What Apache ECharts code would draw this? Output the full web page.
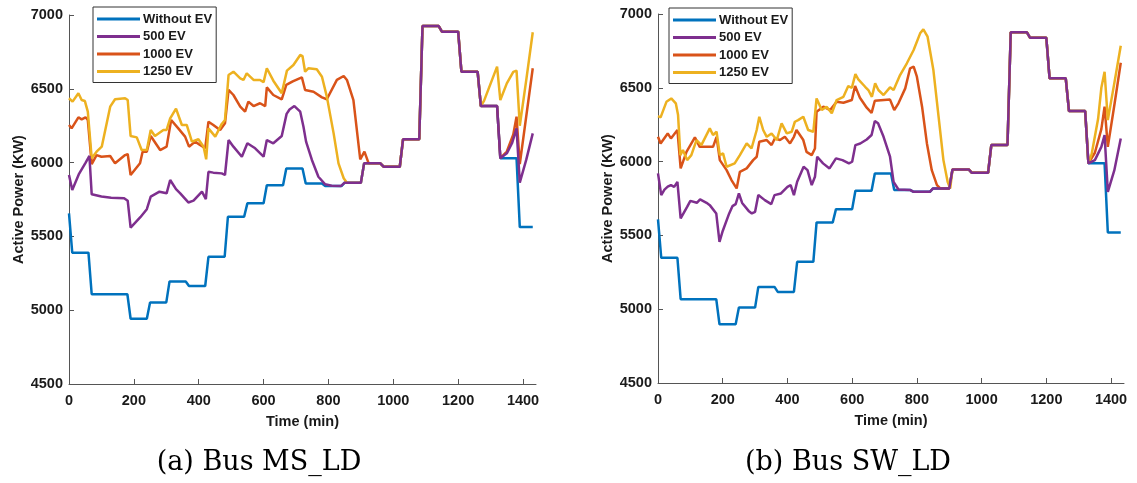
<!DOCTYPE html>
<html>
<head>
<meta charset="utf-8">
<script src="https://cdn.jsdelivr.net/npm/echarts@6/dist/echarts.min.js"></script>
<style>
  html, body { margin: 0; padding: 0; background: #fff; }
  #chart { width: 1137px; height: 483px; }
</style>
</head>
<body>
<div id="chart"></div>
<script>
// legend names and captions
const names = ['Without EV', '500 EV', '1000 EV', '1250 EV'];
const captions = ['(a) Bus MS_LD', '(b) Bus SW_LD'];
const colors = ['#0072BD', '#7E2F8E', '#D95319', '#EDB120'];

// ---- Bus MS_LD : [time (min), power (KW)] ----
// stretch where all four curves sit on top of each other
const commonL = [[960,5995],[970,5972],[1020,5972],[1030,6158],[1080,6158],[1090,6925],[1140,6925],[1150,6887],
  [1200,6887],[1210,6616],[1260,6616],[1270,6383]];

const baseL = [[0,5656],[10,5390],[60,5390],[70,5108],[180,5108],[190,4942],[240,4942],[250,5053],[300,5053],
  [310,5195],[360,5195],[370,5164],[420,5164],[430,5362],[480,5362],[490,5633],[540,5633],[550,5724],[600,5724],
  [610,5847],[660,5847],[670,5960],[720,5960],[730,5858],[780,5858],[790,5841],[840,5841],[850,5864],[900,5864],[910,5995]];
const baseTailL = [[1320,6383],[1330,6030],[1380,6030],[1390,5563],[1430,5563]];

const ev500L = [[0,5916],[10,5814],[30,5920],[50,5995],[63,6045],[70,5785],[100,5770],[130,5762],[170,5758],[181,5742],
  [190,5559],[220,5630],[240,5684],[252,5769],[279,5803],[301,5792],[312,5882],[330,5820],[343,5792],[368,5730],
  [384,5742],[410,5803],[422,5753],[430,5938],[445,5932],[471,5927],[481,5916],[492,6153],[507,6108],[533,6040],
  [550,6131],[574,6097],[600,6040],[610,6153],[630,6131],[656,6180],[671,6330],[680,6360],[695,6383],[713,6345],
  [723,6243],[731,6142],[749,6018],[769,5904],[790,5853],[810,5843],[838,5841],[850,5864],[900,5864],[910,5995]];
const ev500TailL = [[1320,6383],[1330,6030],[1350,6063],[1366,6131],[1380,6232],[1390,5864],[1410,6020],[1430,6198]];

const ev1000L = [[0,6255],[8,6232],[29,6307],[39,6293],[51,6307],[58,6289],[70,5990],[85,6051],[100,6040],[127,6045],
  [142,5995],[173,6051],[181,6058],[190,5916],[219,5995],[227,6074],[240,6074],[252,6180],[281,6085],[301,6108],
  [315,6289],[337,6232],[358,6176],[370,6108],[389,6142],[404,6119],[420,6097],[430,6277],[445,6255],[466,6221],
  [481,6266],[492,6492],[507,6458],[528,6379],[543,6345],[553,6413],[569,6383],[589,6402],[605,6383],[610,6510],
  [630,6458],[656,6429],[670,6526],[690,6550],[718,6578],[728,6492],[754,6480],[780,6442],[795,6429],[826,6560],
  [847,6587],[857,6560],[877,6424],[898,6022],[911,6074],[924,5995]];
const ev1000TailL = [[1320,6383],[1330,6030],[1350,6075],[1370,6190],[1380,6311],[1390,5990],[1430,6639]];

const ev1250L = [[0,6436],[11,6413],[29,6470],[39,6424],[49,6417],[58,6345],[70,6029],[85,6074],[101,6108],[127,6379],
  [142,6429],[173,6436],[181,6424],[190,6180],[209,6171],[224,6085],[240,6085],[252,6221],[265,6180],[291,6221],
  [301,6221],[312,6300],[330,6366],[348,6255],[363,6255],[379,6142],[399,6158],[415,6108],[423,6022],[430,6232],
  [451,6176],[471,6262],[481,6289],[492,6593],[507,6616],[528,6571],[538,6560],[548,6605],[569,6560],[589,6560],
  [600,6545],[610,6639],[630,6555],[656,6470],[672,6623],[692,6661],[713,6729],[720,6722],[728,6616],[738,6639],
  [764,6632],[780,6582],[795,6447],[816,6198],[831,5995],[847,5894],[857,5864],[900,5864],[910,5995]];
const ev1250TailL = [[1280,6420],[1320,6650],[1330,6424],[1350,6537],[1370,6615],[1380,6623],[1390,6250],[1410,6560],[1430,6883]];

// ---- Bus SW_LD ----
const commonR = [[960,5947],[970,5924],[1020,5924],[1030,6112],[1080,6112],[1090,6876],[1140,6876],[1150,6839],
  [1200,6839],[1210,6564],[1260,6564],[1270,6342],[1320,6342],[1330,5988]];

const baseR = [[0,5608],[10,5348],[60,5348],[70,5068],[180,5068],[190,4898],[240,4898],[250,5011],[300,5011],
  [310,5151],[360,5151],[370,5117],[420,5117],[430,5321],[480,5321],[490,5588],[540,5588],[550,5678],[600,5678],
  [610,5802],[660,5802],[670,5920],[720,5920],[730,5807],[780,5807],[790,5795],[840,5795],[850,5818],[900,5818],[910,5947]];
const baseTailR = [[1380,5988],[1390,5520],[1430,5520]];

const ev500R = [[0,5920],[10,5773],[20,5810],[30,5830],[40,5841],[50,5829],[60,5863],[70,5615],[90,5693],[100,5734],
  [120,5721],[130,5744],[150,5721],[160,5705],[180,5649],[190,5456],[200,5530],[220,5649],[230,5698],[240,5712],
  [250,5784],[260,5720],[280,5666],[290,5649],[300,5660],[310,5773],[330,5739],[350,5712],[360,5773],[380,5784],
  [400,5829],[410,5841],[420,5773],[430,5863],[450,5965],[462,5942],[475,5841],[485,5897],[492,6033],[510,5988],
  [530,5954],[550,6022],[570,6010],[590,5988],[600,5999],[610,6112],[625,6123],[645,6150],[660,6180],[670,6275],
  [680,6260],[697,6168],[717,6033],[728,5863],[743,5811],[780,5807],[790,5795],[840,5795],[850,5818],[900,5818],[910,5947]];
const ev500TailR = [[1350,6010],[1370,6100],[1380,6180],[1390,5795],[1410,5940],[1430,6157]];

const ev1000R = [[0,6168],[8,6123],[30,6191],[40,6157],[60,6214],[70,5954],[88,6066],[114,6164],[129,6100],[170,6100],
  [181,6168],[191,6010],[212,5942],[227,5875],[243,5818],[253,5931],[274,5954],[294,6010],[305,6033],[313,6134],
  [336,6146],[351,6112],[361,6157],[377,6146],[392,6168],[408,6123],[420,6168],[428,6214],[449,6146],[459,6066],
  [475,6044],[485,6089],[490,6338],[511,6372],[532,6349],[552,6405],[573,6399],[599,6417],[609,6512],[624,6433],
  [645,6365],[660,6330],[670,6412],[717,6420],[730,6349],[743,6395],[764,6496],[779,6632],[790,6643],[800,6575],
  [816,6372],[831,6123],[846,5942],[862,5841],[872,5818],[900,5818],[910,5947]];
const ev1000TailR = [[1350,6060],[1370,6220],[1380,6372],[1390,6100],[1410,6380],[1430,6670]];

const ev1250R = [[0,6308],[8,6300],[26,6405],[41,6428],[55,6395],[62,6315],[69,6044],[77,6078],[90,6010],[103,6044],
  [119,6146],[134,6112],[160,6225],[170,6180],[181,6202],[191,6044],[201,6056],[212,5965],[237,5988],[253,6044],
  [274,6123],[289,6089],[305,6214],[313,6304],[325,6214],[336,6168],[351,6191],[367,6146],[382,6259],[398,6191],
  [413,6202],[423,6270],[433,6281],[449,6304],[464,6214],[480,6202],[490,6428],[506,6349],[521,6372],[537,6327],
  [552,6417],[573,6439],[588,6512],[599,6500],[610,6593],[619,6557],[640,6507],[650,6485],[661,6439],[671,6530],
  [681,6485],[697,6451],[717,6503],[728,6485],[748,6586],[769,6666],[790,6756],[810,6869],[820,6896],[833,6846],
  [851,6620],[867,6304],[882,6010],[895,5863],[903,5818],[910,5947]];
const ev1250TailR = [[1340,6050],[1360,6290],[1370,6500],[1380,6609],[1390,6281],[1410,6530],[1430,6785]];

const xTicks = { min: 0, max: 1440, interval: 200 };
const yTicks = { min: 4500, max: 7000, interval: 500 };

const seriesL = [
  baseL.concat(commonL, baseTailL),
  ev500L.concat(commonL, ev500TailL),
  ev1000L.concat(commonL, ev1000TailL),
  ev1250L.concat(commonL, ev1250TailL)
];
const seriesR = [
  baseR.concat(commonR, baseTailR),
  ev500R.concat(commonR, ev500TailR),
  ev1000R.concat(commonR, ev1000TailR),
  ev1250R.concat(commonR, ev1250TailR)
];

const txt = '#1a1a1a';
const font = 'Liberation Sans, Arial, sans-serif';

function xAx(i) {
  return {
    type: 'value', gridIndex: i, min: xTicks.min, max: xTicks.max, interval: xTicks.interval,
    name: 'Time (min)', nameLocation: 'middle', nameGap: 30,
    nameTextStyle: { color: txt, fontWeight: 'bold', fontSize: 14.5, fontFamily: font },
    axisLine: { show: true, lineStyle: { color: '#555', width: 1 } },
    axisTick: { show: true, inside: true, length: 5, lineStyle: { color: '#555' } },
    axisLabel: { color: txt, fontWeight: 'bold', fontSize: 14.5, fontFamily: font, margin: 9,
      showMaxLabel: false, formatter: v => String(v) },
    splitLine: { show: false }
  };
}
function yAx(i) {
  return {
    type: 'value', gridIndex: i, min: yTicks.min, max: yTicks.max, interval: yTicks.interval,
    name: 'Active Power (KW)', nameLocation: 'middle', nameGap: 41,
    nameTextStyle: { color: txt, fontWeight: 'bold', fontSize: 14.5, fontFamily: font },
    axisLine: { show: true, lineStyle: { color: '#555', width: 1 } },
    axisTick: { show: true, inside: true, length: 5, lineStyle: { color: '#555' } },
    axisLabel: { color: txt, fontWeight: 'bold', fontSize: 14.5, fontFamily: font, margin: 6,
      formatter: v => String(v) },
    splitLine: { show: false }
  };
}

// draw order: blue, orange, yellow, purple on top
const order = [0, 2, 3, 1];
const series = [];
[seriesL, seriesR].forEach((set, g) => {
  order.forEach(k => {
    series.push({
      name: names[k], type: 'line', xAxisIndex: g, yAxisIndex: g,
      data: set[k], symbol: 'none', smooth: false,
      lineStyle: { color: colors[k], width: 2.5 },
      itemStyle: { color: colors[k] }
    });
  });
});

function legend(left, top) {
  return {
    left, top, orient: 'vertical', data: names, selectedMode: false,
    icon: 'rect', itemWidth: 43, itemHeight: 3, itemGap: 3.5, padding: [5, 4, 4, 4],
    backgroundColor: '#fff', borderColor: '#333', borderWidth: 1,
    textStyle: { color: txt, fontWeight: 'bold', fontSize: 13, fontFamily: font, lineHeight: 14,
      padding: [0, 0, 0, -2] }
  };
}

const option = {
  animation: false,
  backgroundColor: '#fff',
  grid: [
    { left: 69, top: 15, width: 467, height: 369 },
    { left: 658, top: 14, width: 466, height: 369 }
  ],
  xAxis: [xAx(0), xAx(1)],
  yAxis: [yAx(0), yAx(1)],
  legend: [legend(93, 7), legend(669, 8)],
  graphic: [
    { type: 'text', x: 259, y: 463, style: { text: captions[0], fill: '#000',
      font: '27px "DejaVu Serif", serif', textAlign: 'center', textVerticalAlign: 'middle' } },
    { type: 'text', x: 848, y: 463, style: { text: captions[1], fill: '#000',
      font: '27px "DejaVu Serif", serif', textAlign: 'center', textVerticalAlign: 'middle' } }
  ],
  series
};

const chart = echarts.init(document.getElementById('chart'));
chart.setOption(option);
</script>
</body>
</html>
